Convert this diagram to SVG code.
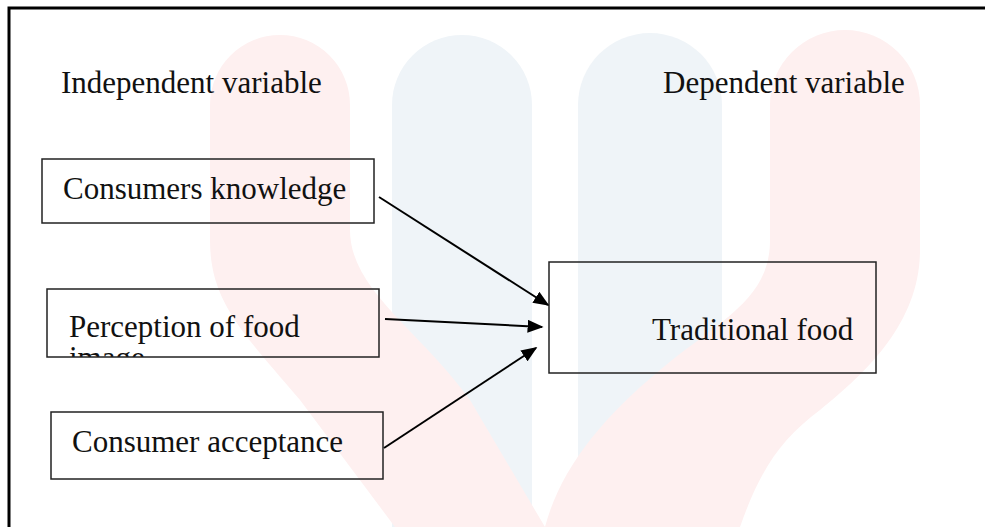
<svg xmlns="http://www.w3.org/2000/svg" width="985" height="527" viewBox="0 0 985 527">
  <style>
    .lbl { font-family: "Liberation Serif", "Times New Roman", serif; font-size: 31px; fill: #111; }
    .box { fill: none; stroke: #222; stroke-width: 1.5; }
    .conn { stroke: #000; stroke-width: 2; fill: none; }
    .wred { fill: #fef0f0; }
    .wblue { fill: #eff4f8; }
  </style>
  <defs>
    <marker id="arrow" viewBox="0 0 10 10" refX="9" refY="5" markerWidth="8" markerHeight="6.5" markerUnits="strokeWidth" orient="auto" preserveAspectRatio="none">
      <path d="M0,0 L10,5 L0,10 Z" fill="#000"/>
    </marker>
    <clipPath id="clipPerc">
      <rect x="47" y="289" width="332" height="68"/>
    </clipPath>
  </defs>
  <rect width="985" height="527" fill="#fff"/>
  <g id="watermark">
    <path class="wblue" d="M392,105 A70,70 0 0 1 532,105 L532,527 L392,527 Z"/>
    <path class="wblue" d="M578,105 A72,72 0 0 1 722,105 L722,527 L578,527 Z"/>
    <path class="wred" d="M210,105 A70,70 0 0 1 350,105 L350,230 C350,290 420,330 470,400 L545,527 L395,527 L300,400 C240,330 210,300 210,240 Z"/>
    <path class="wred" d="M770,105 A75,75 0 0 1 920,105 L920,250 C920,320 870,370 820,410 C780,440 760,470 740,527 L545,527 C560,470 600,420 660,370 C720,320 770,300 770,240 Z"/>
  </g>
  <path d="M9,530 L9,8 L990,8" fill="none" stroke="#000" stroke-width="3"/>
  <g id="header-independent"><text class="lbl" x="61" y="93">Independent variable</text></g>
  <g id="header-dependent"><text class="lbl" x="663" y="93">Dependent variable</text></g>
  <g id="node-knowledge">
    <rect class="box" x="42" y="159" width="332" height="64"/>
    <text class="lbl" x="63" y="199">Consumers knowledge</text>
  </g>
  <g id="node-perception">
    <g clip-path="url(#clipPerc)">
      <text class="lbl" x="69" y="337">Perception of food<tspan x="69" y="368">image</tspan></text>
    </g>
    <rect class="box" x="47" y="289" width="332" height="68"/>
  </g>
  <g id="node-acceptance">
    <rect class="box" x="51" y="412" width="332" height="67"/>
    <text class="lbl" x="72" y="452">Consumer acceptance</text>
  </g>
  <g id="node-traditional">
    <rect class="box" x="549" y="262" width="327" height="111"/>
    <text class="lbl" x="652" y="340">Traditional food</text>
  </g>
  <g id="connectors">
    <line class="conn" x1="379" y1="197" x2="548" y2="305" marker-end="url(#arrow)"/>
    <line class="conn" x1="385" y1="319" x2="542" y2="327" marker-end="url(#arrow)"/>
    <line class="conn" x1="384" y1="448" x2="536" y2="348" marker-end="url(#arrow)"/>
  </g>
</svg>
